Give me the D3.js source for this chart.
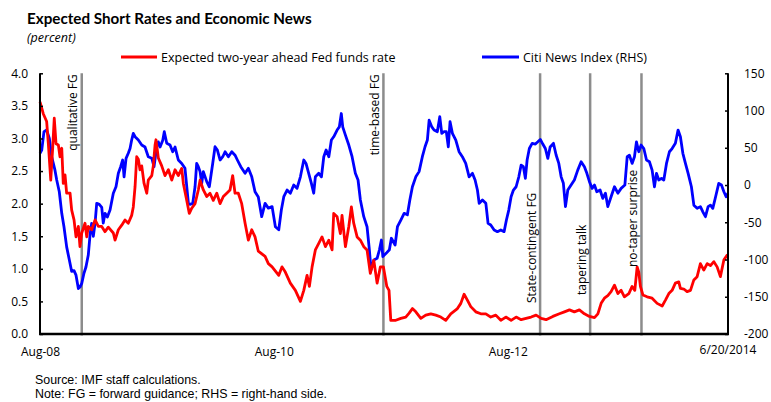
<!DOCTYPE html>
<html>
<head>
<meta charset="utf-8">
<script src="https://cdn.jsdelivr.net/npm/d3@7"></script>
<style>
  html, body { margin: 0; padding: 0; background: #fff; }
  svg { display: block; }
  text { font-family: "Open Sans", "Noto Sans", sans-serif; fill: #000; }
</style>
</head>
<body>
<svg id="chart" width="771" height="402"></svg>
<script>
// ---------------- DATA ----------------
// time in decimal years
const redT = [2008.582,2008.610,2008.639,2008.653,2008.674,2008.691,2008.704,2008.719,2008.739,2008.753,2008.768,2008.781,2008.796,2008.810,2008.839,2008.853,2008.873,2008.890,2008.910,2008.924,2008.939,2008.967,2008.982,2008.995,2009.024,2009.053,2009.081,2009.110,2009.138,2009.166,2009.209,2009.224,2009.252,2009.281,2009.309,2009.337,2009.366,2009.380,2009.395,2009.409,2009.423,2009.437,2009.452,2009.472,2009.495,2009.508,2009.538,2009.551,2009.566,2009.574,2009.594,2009.623,2009.651,2009.680,2009.709,2009.737,2009.765,2009.794,2009.808,2009.837,2009.859,2009.880,2009.908,2009.936,2009.951,2009.979,2010.008,2010.036,2010.064,2010.094,2010.122,2010.150,2010.179,2010.207,2010.230,2010.250,2010.278,2010.307,2010.336,2010.364,2010.393,2010.421,2010.449,2010.507,2010.535,2010.567,2010.624,2010.652,2010.680,2010.723,2010.766,2010.809,2010.838,2010.866,2010.886,2010.909,2010.937,2010.966,2010.994,2011.023,2011.052,2011.080,2011.094,2011.123,2011.151,2011.165,2011.194,2011.223,2011.245,2011.265,2011.294,2011.322,2011.351,2011.379,2011.407,2011.437,2011.465,2011.493,2011.519,2011.548,2011.567,2011.582,2011.625,2011.668,2011.710,2011.739,2011.767,2011.796,2011.839,2011.881,2011.924,2011.967,2012.010,2012.052,2012.095,2012.152,2012.181,2012.209,2012.237,2012.266,2012.309,2012.352,2012.395,2012.437,2012.480,2012.523,2012.566,2012.611,2012.654,2012.697,2012.739,2012.782,2012.825,2012.868,2012.910,2012.968,2013.024,2013.067,2013.110,2013.152,2013.195,2013.238,2013.281,2013.324,2013.353,2013.381,2013.409,2013.438,2013.466,2013.495,2013.524,2013.552,2013.580,2013.618,2013.646,2013.669,2013.689,2013.703,2013.717,2013.738,2013.774,2013.817,2013.860,2013.903,2013.931,2013.960,2013.988,2014.016,2014.045,2014.059,2014.088,2014.116,2014.145,2014.174,2014.202,2014.230,2014.259,2014.288,2014.316,2014.345,2014.373,2014.401,2014.431,2014.459,2014.466];
const redV = [3.56,3.38,3.26,2.93,2.36,2.87,3.31,2.92,2.90,2.72,2.85,2.31,2.44,2.16,2.16,1.90,1.75,1.49,1.65,1.34,1.55,1.70,1.49,1.65,1.60,1.75,1.65,1.65,1.57,1.64,1.55,1.44,1.60,1.67,1.75,1.70,1.82,1.95,2.26,2.72,2.68,2.52,2.58,2.31,2.16,2.36,2.43,2.58,2.90,2.98,2.70,2.58,2.43,2.52,2.36,2.52,2.43,2.54,2.31,2.05,1.85,1.93,2.00,2.21,2.36,2.21,2.11,2.16,2.05,2.16,2.00,2.11,2.16,2.21,2.43,2.16,2.16,2.00,1.70,1.44,1.60,1.49,1.27,1.19,1.08,1.03,0.90,1.03,0.95,0.78,0.67,0.50,0.67,0.90,0.73,1.03,1.29,1.39,1.49,1.34,1.44,1.29,1.85,1.80,1.54,1.82,1.34,1.65,1.95,1.70,1.49,1.44,1.34,1.29,0.93,1.13,0.78,1.03,1.03,0.73,0.67,0.21,0.21,0.24,0.26,0.32,0.39,0.34,0.24,0.29,0.31,0.29,0.26,0.21,0.31,0.39,0.47,0.61,0.52,0.42,0.34,0.31,0.31,0.26,0.29,0.21,0.26,0.21,0.26,0.22,0.24,0.26,0.29,0.24,0.22,0.27,0.31,0.34,0.37,0.34,0.37,0.31,0.27,0.25,0.31,0.47,0.55,0.59,0.65,0.75,0.62,0.67,0.57,0.62,0.73,0.67,1.03,0.95,0.73,0.60,0.57,0.55,0.47,0.43,0.52,0.62,0.67,0.78,0.80,0.70,0.69,0.65,0.67,0.83,0.88,1.08,0.98,1.08,1.05,1.11,1.03,0.88,1.14,1.21,1.19];

const blueT = [2008.582,2008.597,2008.616,2008.639,2008.662,2008.682,2008.696,2008.710,2008.725,2008.747,2008.768,2008.787,2008.810,2008.833,2008.853,2008.873,2008.890,2008.910,2008.924,2008.939,2008.958,2008.975,2008.995,2009.010,2009.024,2009.038,2009.053,2009.067,2009.089,2009.110,2009.123,2009.138,2009.158,2009.181,2009.209,2009.232,2009.252,2009.272,2009.289,2009.301,2009.318,2009.337,2009.352,2009.366,2009.380,2009.395,2009.423,2009.452,2009.480,2009.508,2009.538,2009.557,2009.580,2009.594,2009.609,2009.632,2009.645,2009.666,2009.694,2009.717,2009.737,2009.765,2009.794,2009.822,2009.851,2009.865,2009.888,2009.908,2009.922,2009.936,2009.951,2009.965,2009.979,2010.008,2010.030,2010.059,2010.079,2010.099,2010.122,2010.145,2010.165,2010.193,2010.222,2010.250,2010.270,2010.299,2010.336,2010.364,2010.393,2010.421,2010.449,2010.478,2010.507,2010.535,2010.567,2010.595,2010.624,2010.646,2010.667,2010.695,2010.723,2010.752,2010.780,2010.809,2010.838,2010.857,2010.880,2010.903,2010.923,2010.937,2010.966,2010.989,2011.009,2011.029,2011.052,2011.074,2011.094,2011.123,2011.142,2011.159,2011.171,2011.194,2011.223,2011.251,2011.279,2011.302,2011.322,2011.351,2011.379,2011.399,2011.413,2011.437,2011.465,2011.485,2011.502,2011.514,2011.542,2011.570,2011.587,2011.619,2011.639,2011.668,2011.696,2011.724,2011.745,2011.767,2011.796,2011.824,2011.852,2011.875,2011.895,2011.910,2011.933,2011.952,2011.980,2012.001,2012.018,2012.038,2012.057,2012.074,2012.089,2012.109,2012.138,2012.166,2012.194,2012.223,2012.252,2012.280,2012.303,2012.323,2012.338,2012.366,2012.395,2012.414,2012.437,2012.466,2012.494,2012.523,2012.551,2012.571,2012.591,2012.611,2012.631,2012.654,2012.677,2012.697,2012.716,2012.733,2012.748,2012.767,2012.791,2012.819,2012.840,2012.861,2012.882,2012.904,2012.925,2012.945,2012.973,2012.996,2013.019,2013.039,2013.058,2013.076,2013.096,2013.124,2013.152,2013.181,2013.210,2013.238,2013.259,2013.281,2013.304,2013.324,2013.344,2013.372,2013.395,2013.418,2013.438,2013.466,2013.495,2013.524,2013.552,2013.584,2013.604,2013.623,2013.646,2013.666,2013.683,2013.703,2013.723,2013.746,2013.769,2013.794,2013.817,2013.837,2013.854,2013.874,2013.897,2013.917,2013.940,2013.965,2013.988,2014.016,2014.039,2014.059,2014.080,2014.102,2014.125,2014.153,2014.174,2014.202,2014.230,2014.251,2014.273,2014.296,2014.316,2014.336,2014.360,2014.387,2014.410,2014.431,2014.450,2014.466];
const blueV = [42.6,47,71.6,73.8,62.7,38,29,20,6.7,-9,-38,-56,-83,-100.7,-116,-115,-121,-139,-137,-132,-118.5,-110,-94,-67,-51.4,-69,-51,-24.6,-26,-30,-51,-38,-43,-33.6,-11,-2.3,15.7,24.6,33.6,11,35.8,42.6,49,60.4,69.4,64.8,60.4,53.7,51,38,36,24.6,51.4,58,51,60,71.6,56,53.7,44.7,51,33.6,29,22.4,-24.6,-26,-24.6,-2.3,29,24.6,18,2.3,18,4.5,-2.3,29,51.4,47,33.6,38,44.7,38,44.7,40,33.6,24.6,15.7,22.4,11,-9,-16,-42.5,-24.6,-31,-29,-56,-60,-33.6,-15.7,-6.7,-11,0,-4.5,11,33.6,29,15.7,2.3,-11,11,15.7,11,38,47,38,60.4,64.8,73.8,78,96,78,67,53.7,38,15.7,6.7,-20,-42.5,-56,-87.2,-114,-100.7,-98.4,-87,-73.8,-96,-91.7,-87,-71.5,-80.5,-56,-47,-38,-40,-20,-2.3,11,18,38,51.4,60.4,87,78,73.8,71.6,91.7,69.4,71.6,71.6,51.4,85,69.4,60.4,44.7,38,29,11,15.7,6.7,-6.7,-24.6,-20,-24.6,-51.4,-53.7,-60.4,-62.6,-60.4,-62.6,-47,-33.6,-15.7,-6.7,-2.3,11,26.8,24.6,9,33.6,49,56,55,58,61.3,55,49,35.8,51,56,40.3,29,11,2.3,-29,-6.7,0,6.7,20,31.3,24.6,15.7,4.5,-4.5,0,-9,-6.7,-18,-11,-29,-15.7,-2.3,-11,-4.5,0,38,40,29,38,58,44.7,53.7,49,33.6,31.3,20,-2.3,15.7,6.7,9,6.7,29,44.7,49,56,73.8,64.8,42.6,29,15.7,-2.3,-27,-31.3,-29,-36,-42.5,-29,-27,-31.3,-15.7,2.3,0,-9,-15.7,-11];

const eventT = [2008.939, 2011.519, 2012.859, 2013.287, 2013.726];
const eventLabels = ["qualitative FG", "time-based FG", "State-contingent FG", "tapering talk", "no-taper surprise"];

const leftTicks = [0, 0.5, 1.0, 1.5, 2.0, 2.5, 3.0, 3.5, 4.0];
const rightTicks = [-200, -150, -100, -50, 0, 50, 100, 150];
const xTickT = [2008.582, 2010.581, 2012.582];
const xTickLabels = ["Aug-08", "Aug-10", "Aug-12"];
const xEndLabel = "6/20/2014";
const xDomain = [2008.582, 2014.466];

const seriesNames = ["Expected two-year ahead Fed funds rate", "Citi News Index (RHS)"];
const seriesColors = ["#ff0000", "#0000ff"];
const footnotes = ["Source: IMF staff calculations.", "Note: FG = forward guidance; RHS = right-hand side."];

// ---------------- LAYOUT ----------------
const svg = d3.select("#chart");
const M = { left: 40, right: 728, top: 73.3, bottom: 334 };

const x = d3.scaleLinear().domain(xDomain).range([M.left, M.right]);
const yL = d3.scaleLinear().domain([0, 4]).range([M.bottom, M.top]);
const yR = d3.scaleLinear().domain([-200, 150]).range([M.bottom, M.top]);

// title
svg.append("text").attr("x", 27).attr("y", 24)
  .style("font-family", "Lato, 'Open Sans', sans-serif")
  .style("font-weight", "bold").style("font-size", "15.2px")
  .text("Expected Short Rates and Economic News");
svg.append("text").attr("x", 27).attr("y", 42)
  .style("font-style", "italic").style("font-size", "12.5px")
  .text("(percent)");

// legend
const leg = [{x1: 121, x2: 157, tx: 161}, {x1: 482, x2: 519, tx: 523}];
leg.forEach((l, i) => {
  svg.append("line").attr("x1", l.x1).attr("x2", l.x2).attr("y1", 57).attr("y2", 57)
    .attr("stroke", seriesColors[i]).attr("stroke-width", 2.8);
  svg.append("text").attr("x", l.tx).attr("y", 61.5).style("font-size", "12.5px")
    .text(seriesNames[i]);
});

// event lines
const ev = svg.append("g");
eventT.forEach((t, i) => {
  ev.append("line").attr("x1", x(t)).attr("x2", x(t))
    .attr("y1", M.top).attr("y2", M.bottom + 1.5)
    .attr("stroke", "#8c8c8c").attr("stroke-width", 2.5);
});

// lines
const lineR = d3.line().x((d, i) => x(redT[i])).y(d => yL(d));
const lineB = d3.line().x((d, i) => x(blueT[i])).y(d => yR(d));
svg.append("path").datum(blueV).attr("d", lineB).attr("fill", "none")
  .attr("stroke", seriesColors[1]).attr("stroke-width", 2.8).attr("stroke-linejoin", "round");
svg.append("path").datum(redV).attr("d", lineR).attr("fill", "none")
  .attr("stroke", seriesColors[0]).attr("stroke-width", 2.8).attr("stroke-linejoin", "round");

// event labels (rotated)
const labAnchor = [
  {anchor: "end", pos: M.top + 1},
  {anchor: "end", pos: M.top + 1},
  {anchor: "start", pos: 303},
  {anchor: "start", pos: 295},
  {anchor: "start", pos: 267}
];
eventT.forEach((t, i) => {
  const bx = x(t) - 4.5;
  svg.append("text")
    .attr("transform", `translate(${bx},${labAnchor[i].pos}) rotate(-90)`)
    .attr("text-anchor", labAnchor[i].anchor)
    .style("font-size", "12px")
    .text(eventLabels[i]);
});

// axes
const axL = d3.axisLeft(yL).tickValues(leftTicks).tickFormat(d3.format(".1f")).tickSize(-3).tickPadding(12);
const gL = svg.append("g").attr("transform", `translate(${M.left},0)`).call(axL);
const axR = d3.axisRight(yR).tickValues(rightTicks).tickFormat(d => d).tickSize(-3).tickPadding(0);
const gR = svg.append("g").attr("transform", `translate(${M.right},0)`).call(axR);
[gL, gR].forEach(g => {
  g.select(".domain").attr("stroke", "#000").attr("stroke-width", 2);
  g.selectAll(".tick line").attr("stroke", "#000").attr("stroke-width", 1.5);
  g.selectAll(".tick text").style("font-family", "'Open Sans', sans-serif").style("font-size", "12px").attr("fill", "#000");
});
gR.selectAll(".tick text").attr("x", 16);
gR.select(".domain").attr("d", `M0,${M.top}V${M.bottom}`);
gL.select(".domain").attr("d", `M0,${M.top}V${M.bottom}`);

// bottom axis
const axB = d3.axisBottom(x).tickValues(xTickT).tickFormat((d, i) => xTickLabels[i]).tickSize(0).tickPadding(13);
const gB = svg.append("g").attr("transform", `translate(0,${M.bottom})`).call(axB);
gB.select(".domain").attr("d", `M${M.left - 1},0H${M.right + 1}`).attr("stroke", "#000").attr("stroke-width", 2.5);
gB.selectAll(".tick text").style("font-family", "'Open Sans', sans-serif").style("font-size", "12px").attr("fill", "#000");
svg.append("text").attr("x", x(xDomain[1])).attr("y", 354).attr("text-anchor", "middle")
  .style("font-size", "12px").text(xEndLabel);

// footer
footnotes.forEach((f, i) => {
  svg.append("text").attr("x", 35).attr("y", 383.5 + i * 14.5)
    .style("font-family", "'Liberation Sans', Arial, sans-serif")
    .style("font-size", "12.4px").text(f);
});
</script>
</body>
</html>
